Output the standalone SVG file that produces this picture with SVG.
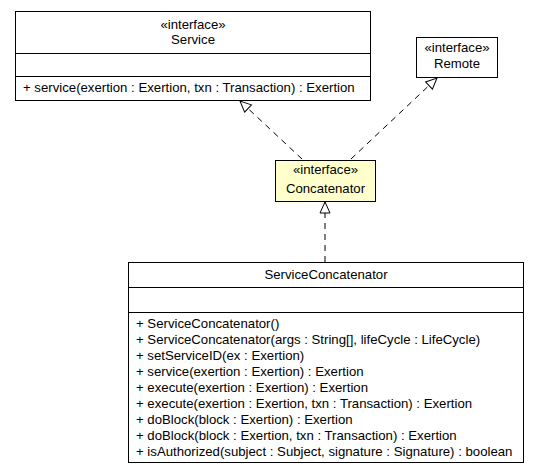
<svg xmlns="http://www.w3.org/2000/svg" width="539" height="475" viewBox="0 0 539 475">
  <style>
    .box { fill: #ffffff; stroke: #000000; stroke-width: 1; }
    .iface { fill: #ffffcc; stroke: #000000; stroke-width: 1; }
    .sep { stroke: #000000; stroke-width: 1; }
    text { font-family: "Liberation Sans", Arial, sans-serif; font-size: 13.2px; fill: #000000; }
    .c { text-anchor: middle; }
    .dep { fill: none; stroke: #000000; stroke-width: 1; stroke-dasharray: 6,5; }
  </style>
  <defs>
    <marker id="realize" markerWidth="14" markerHeight="12" refX="12" refY="6" orient="auto" markerUnits="userSpaceOnUse">
      <path d="M1,1 L12,6 L1,11 Z" fill="#ffffff" stroke="#000000" stroke-width="1"/>
    </marker>
  </defs>

  <!-- connectors -->
  <g id="connectors">
    <line class="dep" x1="302" y1="159" x2="240" y2="101" marker-end="url(#realize)"/>
    <line class="dep" x1="351" y1="159" x2="437" y2="78" marker-end="url(#realize)"/>
    <line class="dep" x1="325" y1="262" x2="325" y2="202" marker-end="url(#realize)"/>
  </g>

  <!-- Service interface -->
  <g id="Service">
    <rect class="box" x="15.5" y="11.5" width="355" height="89"/>
    <line class="sep" x1="15.5" y1="53.5" x2="370.5" y2="53.5"/>
    <line class="sep" x1="15.5" y1="76.5" x2="370.5" y2="76.5"/>
    <text class="c" x="193" y="28.5">«interface»</text>
    <text class="c" x="193" y="44">Service</text>
    <text x="23" y="92">+ service(exertion : Exertion, txn : Transaction) : Exertion</text>
  </g>

  <!-- Remote interface -->
  <g id="Remote">
    <rect class="box" x="416.5" y="37.5" width="81" height="40"/>
    <text class="c" x="457" y="51.5">«interface»</text>
    <text class="c" x="457" y="68">Remote</text>
  </g>

  <!-- Concatenator interface -->
  <g id="Concatenator">
    <rect class="iface" x="275.5" y="160.5" width="100" height="41"/>
    <text class="c" x="325.5" y="174">«interface»</text>
    <text class="c" x="325.5" y="193">Concatenator</text>
  </g>

  <!-- ServiceConcatenator class -->
  <g id="ServiceConcatenator">
    <rect class="box" x="128.5" y="262.5" width="395" height="200"/>
    <line class="sep" x1="128.5" y1="287.5" x2="523.5" y2="287.5"/>
    <line class="sep" x1="128.5" y1="312.5" x2="523.5" y2="312.5"/>
    <text class="c" x="326" y="278.5">ServiceConcatenator</text>
    <text x="136" y="328">+ ServiceConcatenator()</text>
    <text x="136" y="344">+ ServiceConcatenator(args : String[], lifeCycle : LifeCycle)</text>
    <text x="136" y="360">+ setServiceID(ex : Exertion)</text>
    <text x="136" y="376">+ service(exertion : Exertion) : Exertion</text>
    <text x="136" y="392">+ execute(exertion : Exertion) : Exertion</text>
    <text x="136" y="408">+ execute(exertion : Exertion, txn : Transaction) : Exertion</text>
    <text x="136" y="424">+ doBlock(block : Exertion) : Exertion</text>
    <text x="136" y="440">+ doBlock(block : Exertion, txn : Transaction) : Exertion</text>
    <text x="136" y="456">+ isAuthorized(subject : Subject, signature : Signature) : boolean</text>
  </g>
</svg>
